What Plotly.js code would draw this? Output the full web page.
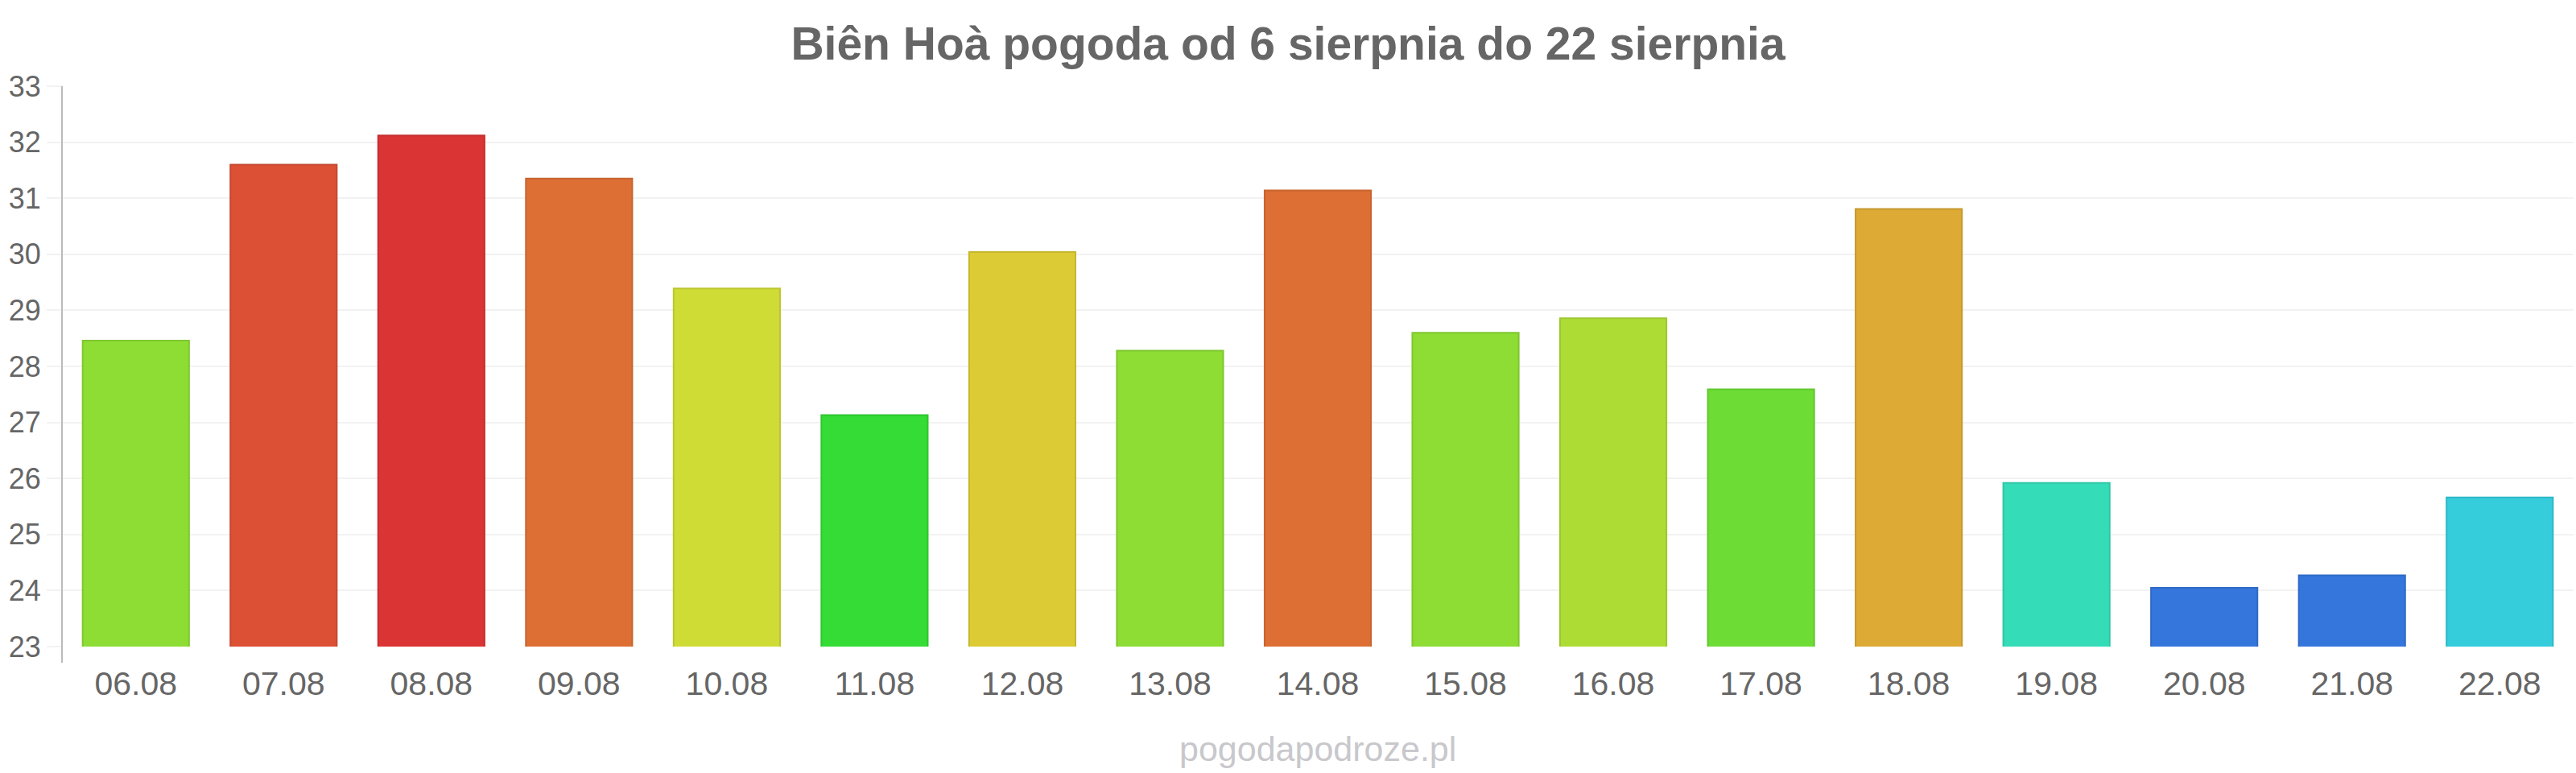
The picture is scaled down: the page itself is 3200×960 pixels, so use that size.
<!DOCTYPE html>
<html>
<head>
<meta charset="utf-8">
<script src="https://cdn.plot.ly/plotly-3.0.1.min.js"></script>
<style>
  html, body { margin: 0; padding: 0; background: #fff; }
  #chart { width: 3200px; height: 960px; }
</style>
</head>
<body>
<div id="chart"></div>
<script>
"use strict";

// daily max temperature
const days = ["06.08", "07.08", "08.08", "09.08", "10.08", "11.08", "12.08", "13.08", "14.08",
              "15.08", "16.08", "17.08", "18.08", "19.08", "20.08", "21.08", "22.08"];
const temps = [28.46, 31.6, 32.12, 31.35, 29.39, 27.13, 30.04, 28.28, 31.14,
               28.6, 28.86, 27.59, 30.81, 25.92, 24.05, 24.27, 25.66];
const yTicks = [23, 24, 25, 26, 27, 28, 29, 30, 31, 32, 33];

const fillColors = ["#8ddd35", "#dc5035", "#da3435", "#dd6f35", "#cfdc35", "#35dc35", "#dccb35",
                    "#8ddd35", "#dd6f35", "#8ddd35", "#addd35", "#6ddd35", "#dcaa35", "#35dcb8",
                    "#3576dc", "#3576dc", "#35ccdc"];
const edgeColors = ["#7fc72f", "#c6482f", "#c42f2f", "#c7642f", "#bac62f", "#2fc62f", "#c6b72f",
                    "#7fc72f", "#c7642f", "#7fc72f", "#9cc72f", "#62c72f", "#c6992f", "#2fc6a6",
                    "#2f6ac6", "#2f6ac6", "#2fb8c6"];

const FONT = "'Liberation Sans', Arial, sans-serif";

const data = [{
  type: "bar",
  x: days,
  y: temps,
  marker: { color: fillColors, line: { color: edgeColors, width: 2 } },
  hoverinfo: "x+y",
}];

const layout = {
  width: 3200,
  height: 960,
  paper_bgcolor: "#ffffff",
  plot_bgcolor: "#ffffff",
  margin: { l: 77, r: 3, t: 107, b: 157 },
  bargap: 0.28,
  showlegend: false,
  font: { family: FONT, color: "#666666" },
  title: {
    text: "<b>Biên Hoà pogoda od 6 sierpnia do 22 sierpnia</b>",
    font: { family: FONT, size: 57, color: "#666666" },
    x: 0.5, xanchor: "center",
    y: 1 - 54 / 960, yanchor: "middle", yref: "container",
  },
  xaxis: {
    type: "category",
    tickfont: { family: FONT, size: 41, color: "#666666" },
    ticks: "outside", ticklen: 10, tickcolor: "rgba(0,0,0,0)",
    showgrid: false, zeroline: false, showline: false,
    fixedrange: true,
  },
  yaxis: {
    range: [23, 33],
    tickvals: yTicks,
    ticktext: yTicks.map(String),
    tickfont: { family: FONT, size: 36, color: "#666666" },
    ticks: "outside", ticklen: 18, tickcolor: "#f2f2f2", tickwidth: 2,
    showgrid: true, gridcolor: "#f2f2f2", gridwidth: 2,
    zeroline: false, showline: false,
    fixedrange: true,
  },
  shapes: [
    // left axis line, running a little below the plot area
    { type: "line", xref: "paper", yref: "paper", x0: 0, x1: 0, y0: -0.029, y1: 1,
      line: { color: "#bbbbbb", width: 2 } },
  ],
  annotations: [
    { text: "pogodapodroze.pl", xref: "paper", yref: "paper", x: 0.5, y: -0.1825,
      xanchor: "center", yanchor: "middle", showarrow: false,
      font: { family: FONT, size: 43, color: "#c8c8cc" } },
  ],
};

Plotly.newPlot("chart", data, layout, { displayModeBar: false, staticPlot: true });
</script>
</body>
</html>
